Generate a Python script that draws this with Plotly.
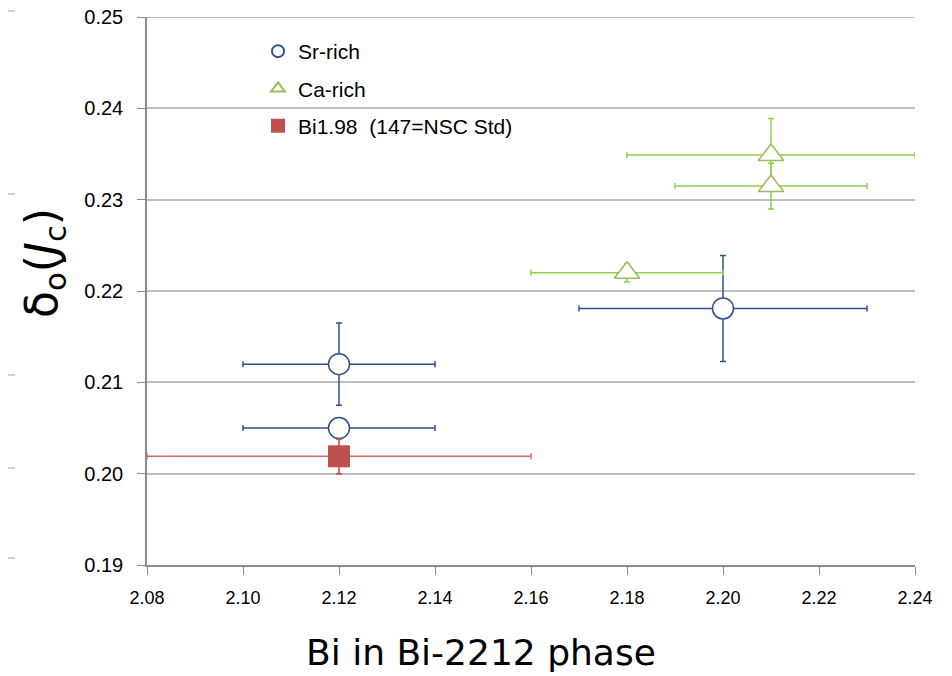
import plotly.graph_objects as go

# Data
sr_x = [2.12, 2.12, 2.20]
sr_y = [0.212, 0.205, 0.2181]
sr_ex = [0.02, 0.02, 0.03]
sr_ey = [0.0045, 0.001, 0.0058]

ca_x = [2.18, 2.21, 2.21]
ca_y = [0.222, 0.2349, 0.2315]
ca_ex = [0.02, 0.03, 0.02]
ca_ey = [0.001, 0.004, 0.0025]

bi_x = [2.12]
bi_y = [0.2019]
bi_ex = [0.04]
bi_ey = [0.0019]

x_ticks = [2.08, 2.10, 2.12, 2.14, 2.16, 2.18, 2.20, 2.22, 2.24]
y_ticks = [0.19, 0.20, 0.21, 0.22, 0.23, 0.24, 0.25]

# page body has an 8px margin; figure occupies 8..952 x 8..676 of the window
OFF = 8
W, H = 952 - OFF, 676 - OFF
L, R, T, B = 147 - OFF, 37, 17 - OFF, 111
PW, PH = W - L - R, H - T - B


def px(xp):
    return (xp - OFF - L) / PW


def py(yp):
    return (H - B - (yp - OFF)) / PH


fig = go.Figure()

fig.add_trace(go.Scatter(
    x=sr_x, y=sr_y, mode="markers", name="Sr-rich", legendgroup="a",
    marker=dict(symbol="circle", size=21, color="white",
                line=dict(color="#2F528F", width=1.5)),
    error_x=dict(type="data", array=sr_ex, color="#2F528F", thickness=1.5, width=3),
    error_y=dict(type="data", array=sr_ey, color="#2F528F", thickness=1.5, width=3),
))
fig.add_trace(go.Scatter(
    x=ca_x, y=ca_y, mode="markers", name="Ca-rich", legendgroup="b",
    marker=dict(symbol="triangle-up", size=22, color="white",
                line=dict(color="#9BBB59", width=1.5)),
    error_x=dict(type="data", array=ca_ex, color="#92D050", thickness=1.5, width=3),
    error_y=dict(type="data", array=ca_ey, color="#92D050", thickness=1.5, width=3),
))
fig.add_trace(go.Scatter(
    x=bi_x, y=bi_y, mode="markers", name="Bi1.98  (147=NSC Std)", legendgroup="c",
    marker=dict(symbol="square", size=21, color="#C0504D",
                line=dict(color="#C0504D", width=1)),
    error_x=dict(type="data", array=bi_ex, color="#E06666", thickness=1.5, width=3),
    error_y=dict(type="data", array=bi_ey, color="#D04040", thickness=1.5, width=3),
))

fig.update_layout(
    width=W, height=H,
    margin=dict(l=L, r=R, t=T, b=B, autoexpand=False),
    paper_bgcolor="white", plot_bgcolor="white",
    font=dict(family="Liberation Sans", color="black"),
    showlegend=True,
    legend=dict(
        x=px(258), y=py(31), xanchor="left", yanchor="top",
        bgcolor="rgba(0,0,0,0)", borderwidth=0,
        font=dict(size=21, family="Liberation Sans"),
        itemsizing="constant", tracegroupgap=7,
    ),
    xaxis=dict(
        range=[2.08, 2.24], tickvals=x_ticks,
        ticktext=[f"{v:.2f}" for v in x_ticks],
        showgrid=False, zeroline=False, automargin=False,
        showline=True, linecolor="#8C8C8C", linewidth=1.5,
        ticks="outside", ticklen=8, tickcolor="#8C8C8C", tickwidth=1,
        ticklabelstandoff=8, ticklabeloverflow="allow",
        tickfont=dict(size=18, family="Liberation Sans"),
    ),
    yaxis=dict(
        range=[0.19, 0.25002], tickvals=y_ticks,
        ticktext=[f"{v:.2f}" for v in y_ticks],
        showgrid=True, gridcolor="#BFBFBF", gridwidth=1.5,
        zeroline=False, automargin=False,
        showline=True, linecolor="#8C8C8C", linewidth=1.5,
        ticks="outside", ticklen=8, tickcolor="#8C8C8C", tickwidth=1,
        ticklabelstandoff=10, ticklabeloverflow="allow",
        tickfont=dict(size=20, family="Liberation Sans"),
    ),
)

# axis titles as annotations (positioned like the reference)
fig.add_annotation(
    xref="paper", yref="paper", x=px(45), y=py(263),
    text="δ<sub>o</sub>(<i>J</i><sub>c</sub>)", showarrow=False, textangle=-90,
    font=dict(size=44, family="DejaVu Sans", color="black"),
    xanchor="center", yanchor="middle",
)
fig.add_annotation(
    xref="paper", yref="paper", x=px(481), y=py(652),
    text="Bi in Bi-2212 phase", showarrow=False,
    font=dict(size=36, family="DejaVu Sans", color="black"),
    xanchor="center", yanchor="middle",
)

# top gridline (at the edge of the plot area)
fig.add_shape(type="line", xref="paper", yref="y", x0=0, x1=1,
              y0=y_ticks[-1], y1=y_ticks[-1],
              line=dict(color="#BFBFBF", width=1.5), layer="between")

# white legend box hiding the gridline behind the legend
fig.add_shape(type="rect", xref="paper", yref="y", x0=px(180), x1=px(607),
              y0=0.2375, y1=0.2475, fillcolor="white", line=dict(width=0),
              layer="between")

# stray tick marks at left edge (from neighbouring chart in reference)
for yp in [11, 194, 375, 468, 558]:
    fig.add_shape(type="line", xref="paper", yref="paper", x0=px(8), x1=px(15),
                  y0=py(yp), y1=py(yp), line=dict(color="#BFBFBF", width=1.5))

fig.write_html("out.html")
